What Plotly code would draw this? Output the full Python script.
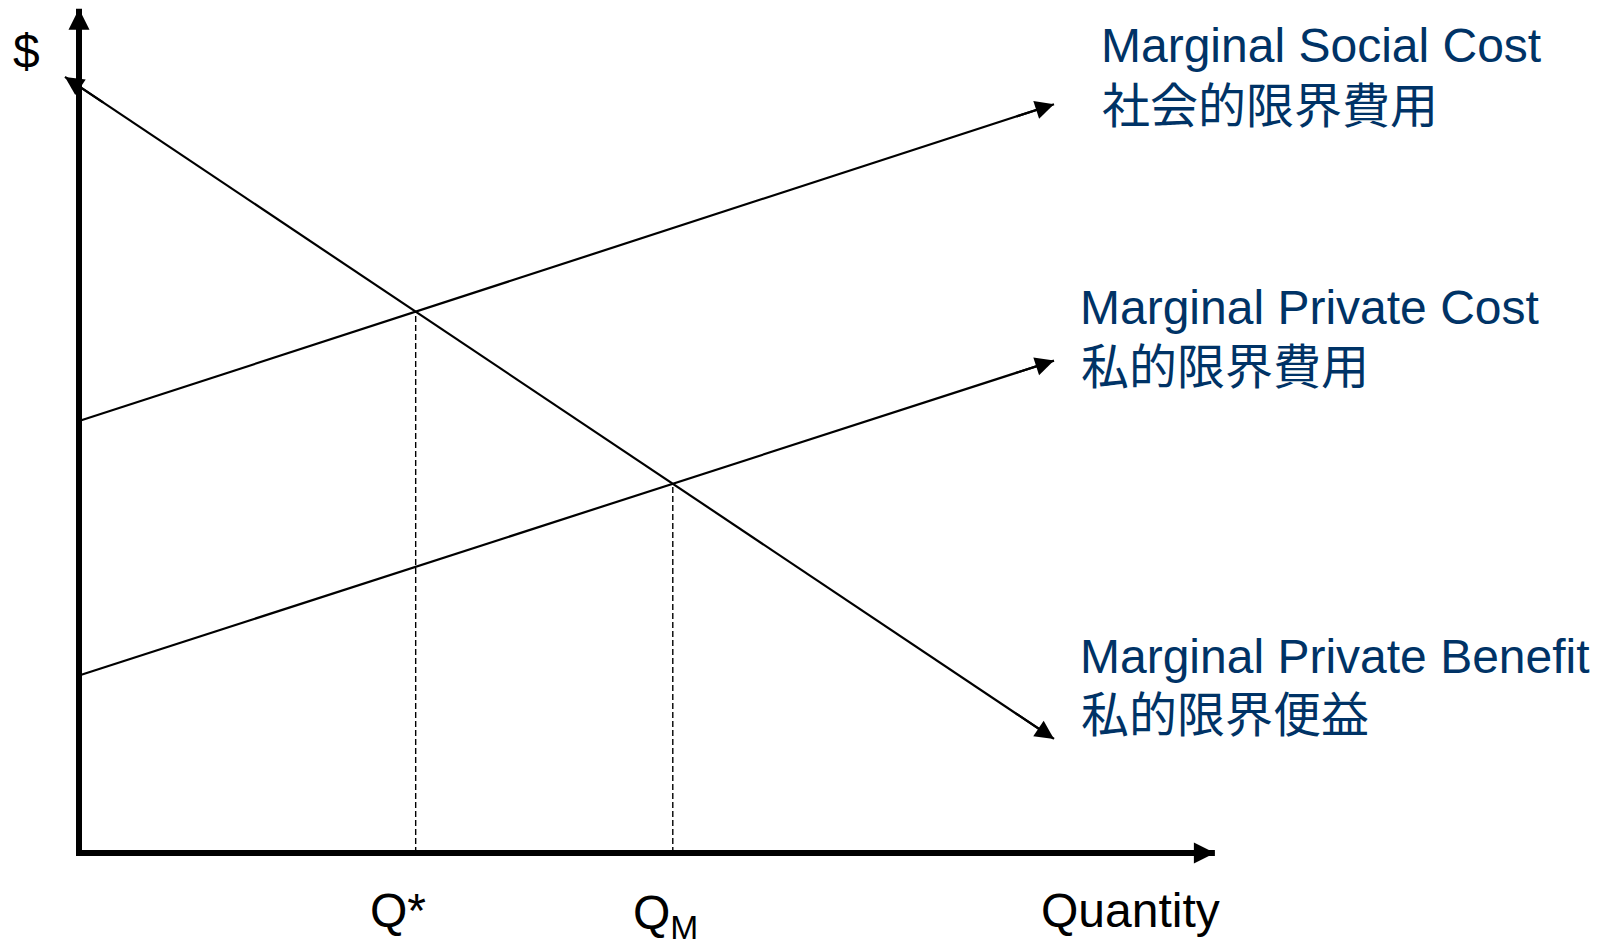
import numpy as np
import plotly.graph_objects as go

# ---------------- data (economic units) ----------------
msc_q = [0.0, 10.0]
msc_p = [4.43, 7.68]
mpc_q = [0.0, 10.0]
mpc_p = [1.82, 5.05]
mpb_q = [-0.144, 10.0]
mpb_p = [7.96, 1.17]
axis_y_top = 8.66     # end of the price axis
axis_x_end = 11.65    # end of the quantity axis

labels_curves = [
    ("Marginal Social Cost", "社会的限界費用"),
    ("Marginal Private Cost", "私的限界費用"),
    ("Marginal Private Benefit", "私的限界便益"),
]
label_qstar = "Q*"
label_qm = "Q<sub>M</sub>"
label_qty = "Quantity"
label_price = "$"

# ---------------- layout geometry ----------------
W, H = 1612, 941
ORIGIN_PX = (79, 853)
UNIT = 97.5
x_range = [-ORIGIN_PX[0] / UNIT, (W - ORIGIN_PX[0]) / UNIT]
y_range = [-(H - ORIGIN_PX[1]) / UNIT, ORIGIN_PX[1] / UNIT]

LAT = "Liberation Sans, Arial, Noto Sans CJK JP"
CJK = "Noto Sans CJK JP, Liberation Sans"
BLUE = "#003366"
FS = 48


def intersect(q1, p1, q2, p2):
    m1 = (p1[1] - p1[0]) / (q1[1] - q1[0]); b1 = p1[0] - m1 * q1[0]
    m2 = (p2[1] - p2[0]) / (q2[1] - q2[0]); b2 = p2[0] - m2 * q2[0]
    q = (b2 - b1) / (m1 - m2)
    return q, m1 * q + b1


q_star, p_star = intersect(msc_q, msc_p, mpb_q, mpb_p)
q_m, p_m = intersect(mpc_q, mpc_p, mpb_q, mpb_p)

fig = go.Figure()

# axes (L shape)
fig.add_trace(go.Scatter(x=[0, 0, axis_x_end], y=[axis_y_top, 0, 0], mode="lines",
                         line=dict(color="black", width=6), hoverinfo="skip"))
# curves
for q, p in [(msc_q, msc_p), (mpc_q, mpc_p), (mpb_q, mpb_p)]:
    fig.add_trace(go.Scatter(x=q, y=p, mode="lines",
                             line=dict(color="black", width=2.2), hoverinfo="skip"))
# dashed verticals
for qq, pp in [(q_star, p_star), (q_m, p_m)]:
    fig.add_trace(go.Scatter(x=[qq, qq], y=[0, pp], mode="lines",
                             line=dict(color="black", width=1.4, dash="6px,3px"), hoverinfo="skip"))

annotations = []


def arrow(tip, other, width, size):
    tail = (tip[0] + 0.04 * (other[0] - tip[0]), tip[1] + 0.04 * (other[1] - tip[1]))
    annotations.append(dict(x=tip[0], y=tip[1], ax=tail[0], ay=tail[1],
                            xref="x", yref="y", axref="x", ayref="y", text="",
                            showarrow=True, arrowhead=2, arrowsize=size,
                            arrowwidth=width, arrowcolor="black", standoff=0))


arrow((0, axis_y_top), (0, 0), 6, 0.7)
arrow((axis_x_end, 0), (0, 0), 6, 0.7)
arrow((msc_q[1], msc_p[1]), (msc_q[0], msc_p[0]), 2.2, 1.7)
arrow((mpc_q[1], mpc_p[1]), (mpc_q[0], mpc_p[0]), 2.2, 1.7)
arrow((mpb_q[1], mpb_p[1]), (mpb_q[0], mpb_p[0]), 2.2, 1.7)
arrow((mpb_q[0], mpb_p[0]), (mpb_q[1], mpb_p[1]), 2.2, 1.7)


def txt(s, px, py, color, family, anchor="left"):
    annotations.append(dict(text=s, x=px / W, y=1 - py / H, xref="paper", yref="paper",
                            xanchor=anchor, yanchor="middle", showarrow=False,
                            borderpad=0, font=dict(family=family, size=FS, color=color)))


label_pos = [((1100, 46), (1101, 102)), ((1079, 307), (1080, 363)), ((1079, 656), (1080, 711))]
for (en, ja), (p_en, p_ja) in zip(labels_curves, label_pos):
    txt(en, p_en[0], p_en[1], BLUE, LAT)
    txt(ja, p_ja[0], p_ja[1], BLUE, CJK)

txt(label_price, 26, 52, "black", LAT, "center")
txt(label_qstar, 369, 910, "black", LAT)
txt(label_qm, 632, 916, "black", LAT)
txt(label_qty, 1040, 910, "black", LAT)

fig.update_layout(
    width=W, height=H, margin=dict(l=0, r=0, t=0, b=0),
    paper_bgcolor="white", plot_bgcolor="white", showlegend=False,
    xaxis=dict(range=x_range, visible=False, fixedrange=True),
    yaxis=dict(range=y_range, visible=False, fixedrange=True),
    annotations=annotations,
)

fig.write_html("out.html")
